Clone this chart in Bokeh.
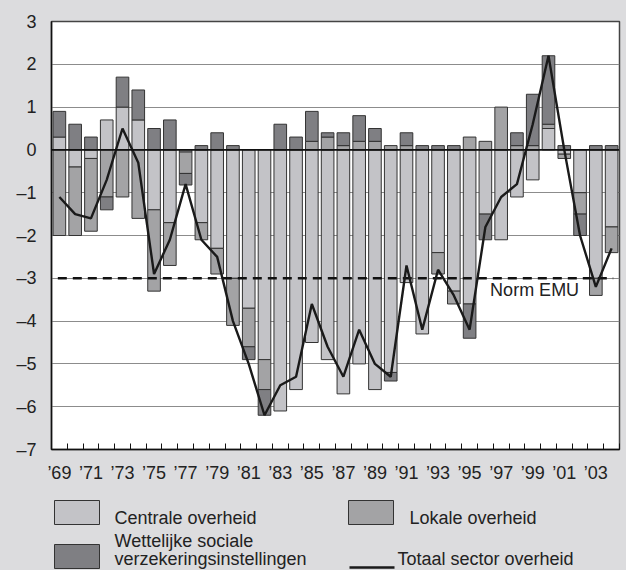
from bokeh.plotting import figure
from bokeh.models import ColumnDataSource, FixedTicker, Span, Range1d, Label
from bokeh.layouts import column
from bokeh.embed import file_html
from bokeh.resources import INLINE
from bokeh.core.properties import value

# ---------------- data ----------------
years = list(range(1969, 2005))
centrale = [0.3, -0.4, -0.2, 0.7, 1.0, 0.7, -1.4, -1.7, -0.05, -1.7, -2.3, -3.0,
            -3.7, -4.9, -6.1, -5.6, -4.5, -4.9, -5.7, -5.0, -5.6, -5.2, -3.1, -4.3,
            -2.4, -3.3, -3.6, -1.5, -2.1, -1.1, -0.7, 0.5, -0.1, -1.0, -3.0, -1.8]
lokale = [-2.0, -1.6, -1.7, -1.1, -1.1, -1.6, -1.9, -1.0, -0.5, -0.4, -0.6, -1.1,
          -0.9, -0.7, 0.0, 0.0, 0.2, 0.3, 0.1, 0.2, 0.2, 0.1, 0.1, 0.0,
          -0.5, -0.3, 0.3, 0.2, 1.0, 0.1, 0.1, 0.1, -0.1, -0.5, -0.4, -0.6]
wettelijke = [0.6, 0.6, 0.3, -0.3, 0.7, 0.7, 0.5, 0.7, -0.27, 0.1, 0.4, 0.1,
              -0.3, -0.6, 0.6, 0.3, 0.7, 0.1, 0.3, 0.6, 0.3, -0.2, 0.3, 0.1,
              0.1, 0.1, -0.8, -0.6, 0.0, 0.3, 1.2, 1.6, 0.1, -0.5, 0.1, 0.1]
totaal = [-1.1, -1.5, -1.6, -0.7, 0.5, -0.3, -2.9, -2.1, -0.8, -2.1, -2.5, -4.0,
          -5.0, -6.2, -5.5, -5.3, -3.6, -4.6, -5.3, -4.2, -5.0, -5.3, -2.7, -4.2,
          -2.8, -3.4, -4.2, -1.8, -1.1, -0.8, 0.6, 2.2, 0.0, -2.0, -3.2, -2.3]
norm_emu = -3.0
y_ticks = [3, 2, 1, 0, -1, -2, -3, -4, -5, -6, -7]
y_tick_labels = ["3", "2", "1", "0", "\u20131", "\u20132", "\u20133", "\u20134",
                 "\u20135", "\u20136", "\u20137"]
x_label_years = list(range(1969, 2004, 2))
x_tick_labels = ["\u2019%02d" % (y % 100) for y in x_label_years]

series_colors = ["#c3c3c7", "#a3a3a5", "#7f7f83"]

FONT = "Liberation Sans"
BG = "#dcdcde"
BORDER_L, BORDER_R, WIDTH = 51, 7, 626

# ---------------- stacking ----------------
stacks = [dict(x=[], bottom=[], top=[]) for _ in range(3)]
for i, yr in enumerate(years):
    pos, neg = 0.0, 0.0
    for k, vals in enumerate([centrale, lokale, wettelijke]):
        v = vals[i]
        if v == 0:
            continue
        if v > 0:
            b, t = pos, pos + v
            pos = t
        else:
            t, b = neg, neg + v
            neg = b
        stacks[k]["x"].append(yr)
        stacks[k]["bottom"].append(b)
        stacks[k]["top"].append(t)

# ---------------- main figure ----------------
p = figure(width=WIDTH, height=490, x_range=Range1d(1968.5, 2004.5),
           y_range=Range1d(-7, 3), output_backend="svg", toolbar_location=None,
           min_border_left=BORDER_L, min_border_right=BORDER_R, min_border_top=21,
           min_border_bottom=41)
p.background_fill_color = "white"
p.border_fill_color = BG
p.outline_line_color = "#444444"
p.outline_line_width = 1.5

for k in range(3):
    p.vbar(x="x", bottom="bottom", top="top", width=0.8,
           source=ColumnDataSource(stacks[k]), fill_color=series_colors[k],
           line_color="#333333", line_width=1)

p.add_layout(Span(location=0, dimension="width", line_color="#111111",
                  line_width=1.6))
p.segment(x0=[years[0] - 0.1], x1=[years[-1] + 0.1], y0=[norm_emu], y1=[norm_emu],
          line_color="#111111", line_width=2.4, line_dash="9 6")
p.line(years, totaal, line_color="#1a1a1a", line_width=2.4)
p.add_layout(Label(x=1996.3, y=norm_emu - 0.28, text="Norm EMU",
                   text_baseline="middle", text_font=FONT,
                   text_font_size="18px", text_color="#222222"))

p.ygrid.ticker = FixedTicker(ticks=[t for t in y_ticks if -7 < t < 3])
p.ygrid.grid_line_color = "#8c8c8c"
p.ygrid.grid_line_width = 1.2
p.xgrid.grid_line_color = None

yax = p.yaxis[0]
yax.ticker = FixedTicker(ticks=y_ticks)
yax.major_label_overrides = dict(zip(y_ticks, y_tick_labels))
yax.major_tick_line_color = None
yax.minor_tick_line_color = None
yax.axis_line_color = "#111111"
yax.axis_line_width = 1.5
yax.major_label_text_font = FONT
yax.major_label_text_font_size = "18px"
yax.major_label_text_color = "#222222"
yax.major_label_standoff = 9

xax = p.xaxis[0]
xax.ticker = FixedTicker(ticks=x_label_years,
                         minor_ticks=[y - 0.5 for y in years] + [years[-1] + 0.5])
xax.major_label_overrides = dict(zip(x_label_years, x_tick_labels))
xax.major_tick_line_color = None
xax.minor_tick_line_color = "#111111"
xax.minor_tick_in = 6
xax.minor_tick_out = 0
xax.axis_line_color = "#111111"
xax.axis_line_width = 1.5
xax.major_label_text_font = FONT
xax.major_label_text_font_size = "18px"
xax.major_label_text_color = "#222222"
xax.major_label_standoff = 7

# ---------------- legend panel (pixel layout, y downwards) ----------------
q = figure(width=WIDTH, height=80, x_range=Range1d(BORDER_L, WIDTH - BORDER_R),
           y_range=Range1d(80, 0), output_backend="svg", toolbar_location=None,
           x_axis_type=None, y_axis_type=None, min_border_left=BORDER_L,
           min_border_right=BORDER_R, min_border_top=0, min_border_bottom=0)
q.grid.visible = False
q.outline_line_color = None
q.background_fill_color = BG
q.border_fill_color = BG

sw_left = [54, 348, 54]
sw_top = [10, 10, 54]
q.quad(left=sw_left, right=[x + 45 for x in sw_left], top=sw_top,
       bottom=[t + 24 for t in sw_top], fill_color=series_colors,
       line_color="#333333", line_width=1)
q.segment(x0=[349], x1=[394], y0=[77], y1=[77], line_color="#1a1a1a",
          line_width=2.5)
q.text(x=[114, 409, 114, 114, 397], y=[27, 27, 50, 68, 68],
       text=["Centrale overheid", "Lokale overheid", "Wettelijke sociale",
             "verzekeringsinstellingen", "Totaal sector overheid"],
       text_font=value(FONT), text_font_size=value("18px"),
       text_baseline="middle", text_color="#222222")

layout = column(p, q, spacing=0, styles={"background-color": BG})
open("out.html", "w").write(file_html(layout, INLINE))
